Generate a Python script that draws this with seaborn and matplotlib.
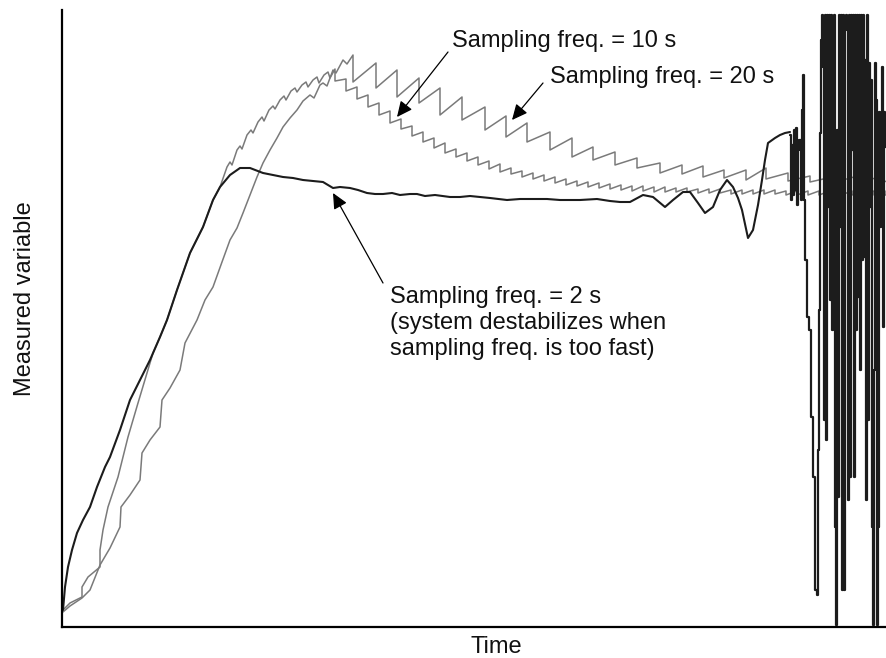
import numpy as np
import matplotlib
matplotlib.use("Agg")
import matplotlib.pyplot as plt
import seaborn as sns

# ---------------- data (time in arbitrary units, measured variable in arbitrary units) ----------------
# Sampling every 2 s: rise, plateau with growing oscillation, then instability
t_2s_rise = [1, 3, 6, 10, 15, 21, 28, 35, 43, 48, 58, 68, 78, 88, 98, 105, 115, 128, 141, 151, 158]
v_2s_rise = [17, 40, 60, 77, 94, 107, 120, 140, 160, 170, 197, 227, 247, 267, 290, 307, 337, 374, 400, 427, 440]

t_2s_plateau = [168, 178, 188, 201, 211, 221, 231, 241, 251, 261,
                271, 278, 288, 296, 305, 313, 321, 330, 338, 348,
                355, 363, 373, 388, 398, 408, 418, 428, 445, 458,
                473, 485, 498, 518, 535, 548, 558, 568, 581, 591,
                603, 611, 621, 628, 636, 643, 651, 658, 665, 671,
                676, 680, 686, 691, 696, 700, 703, 706, 713, 718,
                723, 728]
v_2s_plateau = [452, 459, 459, 454, 452, 450, 449, 447, 446, 445,
                439, 440, 439, 437, 434, 433, 433, 434, 432, 433,
                433, 431, 432, 430, 430, 431, 430, 429, 427, 428,
                428, 428, 427, 427, 428, 426, 425, 425, 432, 430,
                420, 427, 435, 435, 424, 414, 420, 437, 447, 440,
                429, 417, 389, 397, 422, 447, 467, 484, 489, 492,
                494, 495]

t_2s_unstable = [728, 729, 730, 731, 732, 733, 734, 735, 736, 737,
                 739, 740, 741, 742, 743, 745, 747, 749, 751, 753,
                 755, 756, 757, 758, 759, 760, 761, 762, 763, 764,
                 765, 766, 767, 768, 769, 770, 771, 772, 773, 774,
                 775, 776, 777, 778, 779, 780, 781, 782, 783, 784,
                 785, 786, 787, 788, 789, 790, 791, 792, 793, 794,
                 795, 796, 797, 798, 799, 800, 801, 802, 803, 804,
                 805, 806, 807, 808, 809, 810, 811, 812, 813, 814,
                 815, 816, 817, 818, 819, 820, 821, 822, 823, 824,
                 825]
v_2s_unstable = [492, 427, 482, 432, 497, 437, 499, 422, 477, 487,
                 427, 517, 552, 427, 367, 310, 297, 210, 150, 37,
                 32, 177, 317, 494, 587, 612, 560, 207, 612, 187,
                 612, 420, 612, 327, 612, 297, 560, 612, 100, 2,
                 497, 130, 612, 400, 612, 37, 612, 37, 600, 612,
                 597, 127, 612, 150, 612, 477, 612, 150, 612, 297,
                 612, 330, 612, 257, 612, 367, 612, 370, 567, 127,
                 612, 207, 564, 420, 547, 100, 2, 257, 564, 527,
                 2, 100, 515, 400, 507, 560, 300, 515, 480, 507,
                 507]

# Sampling every 10 s
t_10s_rise = [1, 8, 20, 20, 26, 38, 38, 41, 46, 56,
              66, 76, 88, 91, 98, 105, 115, 128, 141, 151,
              158, 165, 168, 170, 175, 178, 180, 185, 189, 191,
              196, 200, 202, 207, 211, 213, 218, 222, 224, 229,
              233, 235, 240, 244, 246, 251, 255, 257, 262, 266,
              268]
v_10s_rise = [17, 24, 30, 40, 50, 60, 77, 97, 120, 150,
              190, 224, 264, 274, 290, 307, 337, 374, 400, 427,
              440, 460, 465, 462, 477, 481, 478, 492, 497, 494,
              505, 510, 506, 517, 521, 518, 527, 531, 527, 536,
              539, 535, 542, 545, 540, 547, 550, 544, 552, 555,
              549]
samples_10s = [273, 284, 295, 306, 317, 328, 339, 350, 361, 372,
               383, 394, 405, 416, 427, 438, 449, 460, 471, 482,
               493, 504, 515, 526, 537, 548, 559, 570, 581, 592,
               603, 614, 625, 636, 647, 658, 669, 680, 691, 702,
               713, 724, 735, 746, 757, 768, 779, 790, 801, 812,
               823]
before_10s = [558, 548, 540, 532, 524, 516, 508, 501, 495, 489,
              484, 478, 474, 470, 466, 463, 459, 456, 454, 452,
              450, 448, 446, 445, 444, 443, 442, 441, 441, 440,
              440, 439, 439, 438, 438, 438, 437, 437, 437, 437,
              437, 436, 436, 436, 436, 436, 436, 436, 436, 436,
              436]
after_10s = [546, 536, 528, 520, 512, 504, 498, 491, 485, 479,
             474, 470, 466, 462, 458, 455, 453, 450, 448, 446,
             444, 442, 441, 440, 439, 438, 437, 436, 436, 435,
             435, 435, 435, 434, 434, 434, 433, 433, 433, 433,
             433, 432, 432, 432, 432, 432, 432, 432, 432, 432,
             432]
end_10s = (825, 432)

# Sampling every 20 s
t_20s_rise = [1, 8, 20, 28, 38, 48, 58, 59, 68, 78,
              80, 88, 98, 100, 108, 118, 123, 135, 143, 151,
              160, 168, 175, 181, 188, 195, 201, 208, 215, 221,
              228, 235, 241, 248, 252, 258, 261, 265, 271, 274,
              281, 285]
v_20s_rise = [15, 21, 29, 37, 62, 79, 100, 120, 132, 147,
              174, 187, 200, 227, 239, 257, 284, 307, 327, 340,
              365, 387, 399, 414, 432, 450, 464, 477, 489, 500,
              509, 517, 526, 532, 529, 542, 544, 541, 557, 554,
              567, 563]
samples_20s = [291, 314, 335, 357, 378, 400, 423, 444, 465, 488,
               510, 531, 553, 575, 598, 620, 641, 662, 684, 704,
               726, 748, 770, 792, 814]
before_20s = [572, 564, 557, 549, 539, 530, 520, 511, 504, 495,
              489, 480, 475, 469, 464, 462, 461, 457, 457, 459,
              454, 451, 450, 450, 449]
after_20s = [545, 539, 530, 524, 512, 507, 497, 490, 485, 477,
             470, 467, 462, 459, 454, 453, 450, 449, 447, 448,
             446, 445, 444, 444, 443]
end_20s = (825, 446)

label_10s = "Sampling freq. = 10 s"
label_20s = "Sampling freq. = 20 s"
label_2s = ["Sampling freq. = 2 s", "(system destabilizes when", "sampling freq. is too fast)"]

# ---------------- build series ----------------
def sampled(t_rise, v_rise, samples, before, after, end):
    t = list(t_rise) + list(np.repeat(samples, 2)) + [end[0]]
    v = list(v_rise) + list(np.column_stack([before, after]).ravel()) + [end[1]]
    return np.array(t, float), np.array(v, float)

t10, v10 = sampled(t_10s_rise, v_10s_rise, samples_10s, before_10s, after_10s, end_10s)
t20, v20 = sampled(t_20s_rise, v_20s_rise, samples_20s, before_20s, after_20s, end_20s)
t2 = np.array(t_2s_rise + t_2s_plateau, float)
v2 = np.array(v_2s_rise + v_2s_plateau, float)
t2u = np.array(t_2s_unstable, float)
v2u = np.array(v_2s_unstable, float)

# ---------------- plot ----------------
sns.set_style("white")
plt.rcParams['font.family'] = ['Liberation Sans', 'DejaVu Sans']

W, H = 887, 658
fig = plt.figure(figsize=(W / 100, H / 100), dpi=100)
ax = fig.add_axes([62 / W, 31 / H, 825 / W, 617 / H])

gray = "#7a7a7a"
dark = "#1c1c1c"
sns.lineplot(x=t20, y=v20, sort=False, estimator=None, color=gray, lw=1.1, ax=ax)
sns.lineplot(x=t10, y=v10, sort=False, estimator=None, color=gray, lw=1.1, ax=ax)
sns.lineplot(x=t2, y=v2, sort=False, estimator=None, color=dark, lw=1.5, ax=ax)
sns.lineplot(x=t2u, y=v2u, sort=False, estimator=None, color=dark, lw=1.6,
             drawstyle="steps-post", ax=ax)

ax.set_xlim(0, 825)
ax.set_ylim(0, 617)
ax.set_xticks([])
ax.set_yticks([])
ax.set_xlabel("")
ax.set_ylabel("")
for s in ["top", "right"]:
    ax.spines[s].set_visible(False)
for s in ["left", "bottom"]:
    ax.spines[s].set_color("black")
    ax.spines[s].set_linewidth(1.6)

fs = 17
txt = "#111111"
arrow = dict(arrowstyle="-|>,head_length=0.47,head_width=0.22", color="black",
             lw=0.9, mutation_scale=20, shrinkA=0, shrinkB=0)

ax.annotate("", xy=(335, 510), xytext=(386, 575), arrowprops=arrow)
ax.text(390, 580, label_10s, fontsize=fs, ha="left", va="baseline", color=txt)

ax.annotate("", xy=(450, 507), xytext=(481, 544), arrowprops=arrow)
ax.text(488, 544, label_20s, fontsize=fs, ha="left", va="baseline", color=txt)

ax.annotate("", xy=(271, 434), xytext=(321, 344), arrowprops=arrow)
for line, vb in zip(label_2s, [324, 298, 272]):
    ax.text(328, vb, line, fontsize=fs, ha="left", va="baseline", color=txt)

fig.text(496 / W, 1 - 653 / H, "Time", fontsize=fs, ha="center", va="baseline", color=txt)
fig.text(25 / W, 1 - 299 / H, "Measured variable", fontsize=fs, rotation=90,
         ha="center", va="center", color=txt)

fig.savefig("out.png", dpi=100)
